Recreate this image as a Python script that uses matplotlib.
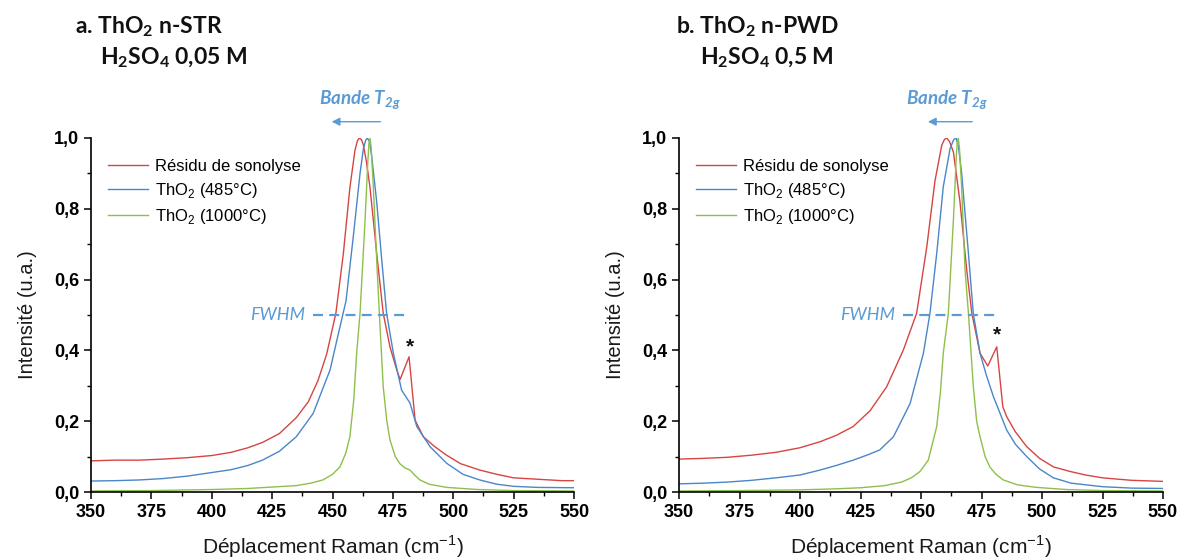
import matplotlib
matplotlib.use("Agg")
import matplotlib.pyplot as plt
from matplotlib.ticker import MultipleLocator, FuncFormatter

# ---------------- data ----------------
# Panel a
a_red_x = [350, 360, 370, 380, 390, 400, 408, 415, 421, 428, 435, 440, 444, 447.6, 451.4, 454.5, 457.2,
           459.3, 460.3, 461.1, 462.0, 462.8, 464.0, 465.5, 468.3, 471, 473.8, 476.6, 478, 481.7, 484.2,
           487.6, 492, 497, 503, 511, 518, 525, 535, 545, 550]
a_red_y = [0.088, 0.090, 0.090, 0.093, 0.097, 0.103, 0.112, 0.125, 0.140, 0.165, 0.210, 0.255, 0.315, 0.390,
           0.505, 0.674, 0.860, 0.965, 0.992, 1.000, 0.995, 0.980, 0.935, 0.862, 0.674, 0.505, 0.410, 0.345,
           0.318, 0.382, 0.203, 0.156, 0.130, 0.105, 0.080, 0.062, 0.050, 0.040, 0.036, 0.032, 0.032]
a_blue_x = [350, 360, 370, 380, 390, 400, 408, 415, 421, 428, 435, 442, 449, 453.1, 455.6, 458.6, 461.4,
            462.8, 463.7, 464.4, 465.3, 466.2, 468.3, 470.4, 472.4, 475.2, 478.6, 482.1, 484.9, 490.4,
            497.3, 504, 511, 518, 525, 535, 550]
a_blue_y = [0.031, 0.032, 0.034, 0.038, 0.045, 0.055, 0.063, 0.075, 0.090, 0.115, 0.156, 0.222, 0.345,
            0.467, 0.540, 0.721, 0.900, 0.970, 0.993, 1.000, 0.990, 0.950, 0.820, 0.655, 0.505, 0.392,
            0.288, 0.251, 0.185, 0.128, 0.081, 0.050, 0.034, 0.022, 0.016, 0.013, 0.012]
a_green_x = [350, 375, 400, 415, 425, 435, 441, 446, 450, 453.1, 455.5, 457.2, 458.8, 460, 461.4, 463.5,
             464.6, 465.1, 465.5, 466.0, 466.9, 468.3, 469.4, 471, 472.5, 473.8, 476, 477.9, 480, 482.1,
             484, 486.2, 490, 497.3, 510, 525, 550]
a_green_y = [0.003, 0.004, 0.007, 0.010, 0.014, 0.018, 0.025, 0.034, 0.050, 0.071, 0.110, 0.156, 0.260,
             0.392, 0.505, 0.770, 0.930, 0.985, 1.000, 0.975, 0.862, 0.655, 0.505, 0.298, 0.200, 0.147,
             0.100, 0.080, 0.068, 0.062, 0.048, 0.034, 0.022, 0.013, 0.007, 0.004, 0.003]

# Panel b
b_red_x = [350, 360, 370, 380, 390, 400, 408.3, 415, 422, 429, 435.8, 442.7, 448.2, 452.4, 455.8, 458.6,
           459.7, 460.6, 461.8, 463.4, 466.1, 468.9, 471, 474.4, 477.6, 481.3, 483.8, 485.4, 489, 493.7,
           499, 504.7, 511.6, 518, 525, 537, 550]
b_red_y = [0.093, 0.095, 0.098, 0.104, 0.112, 0.125, 0.142, 0.160, 0.185, 0.230, 0.297, 0.401, 0.505,
           0.693, 0.880, 0.980, 0.996, 1.000, 0.990, 0.960, 0.820, 0.627, 0.505, 0.392, 0.356, 0.410,
           0.241, 0.213, 0.170, 0.128, 0.095, 0.071, 0.058, 0.048, 0.040, 0.033, 0.030]
b_blue_x = [350, 360, 370, 380, 390, 400, 408.3, 415, 422, 428, 433, 438.6, 445.5, 451, 453.7, 456.5,
            459.2, 462, 463.5, 464.5, 465.5, 466.8, 469.6, 471.6, 474.4, 477, 479.9, 485.4, 489, 493.7,
            499, 504.7, 512, 525, 537, 550]
b_blue_y = [0.023, 0.025, 0.028, 0.033, 0.040, 0.048, 0.062, 0.075, 0.090, 0.105, 0.119, 0.156, 0.250,
            0.392, 0.505, 0.674, 0.862, 0.970, 0.995, 1.000, 0.975, 0.900, 0.674, 0.505, 0.392, 0.330,
            0.270, 0.175, 0.135, 0.100, 0.065, 0.040, 0.025, 0.015, 0.011, 0.010]
b_green_x = [350, 375, 400, 415, 425, 435, 442, 446, 449.6, 453, 456.5, 458, 459.2, 461.3, 463.4, 464.6,
             465.0, 465.4, 465.9, 466.8, 468.2, 469.6, 471.6, 473, 474.4, 476.5, 478.5, 481, 484, 490,
             497.8, 510, 525, 550]
b_green_y = [0.003, 0.004, 0.006, 0.009, 0.012, 0.018, 0.028, 0.040, 0.058, 0.090, 0.185, 0.280, 0.392,
             0.505, 0.770, 0.950, 0.988, 1.000, 0.970, 0.860, 0.627, 0.505, 0.300, 0.200, 0.156, 0.100,
             0.070, 0.050, 0.034, 0.020, 0.013, 0.007, 0.004, 0.003]

labels = ["Résidu de sonolyse", "ThO$_\\mathregular{2}$ (485°C)", "ThO$_\\mathregular{2}$ (1000°C)"]
titles1 = ["a. ThO$_\\mathregular{2}$ n-STR", "b. ThO$_\\mathregular{2}$ n-PWD"]
titles2 = ["H$_\\mathregular{2}$SO$_\\mathregular{4}$ 0,05 M", "H$_\\mathregular{2}$SO$_\\mathregular{4}$ 0,5 M"]
xlabel = "Déplacement Raman (cm$^\\mathregular{-1}$)"
ylabel = "Intensité (u.a.)"

colors = ["#d64541", "#4a86c8", "#8dc04b"]
accent = "#5b9bd5"

# ---------------- figure ----------------
W, H = 1179, 558
fig = plt.figure(figsize=(W / 100, H / 100), dpi=100)

panels = [
    dict(left=91, right=574, data=[(a_red_x, a_red_y), (a_blue_x, a_blue_y), (a_green_x, a_green_y)],
         star=(482.1, 0.41), band=(461.4, 471.0, 448.5), tx=75, tx2=100, fw=(441.8, 482.1)),
    dict(left=679, right=1163, data=[(b_red_x, b_red_y), (b_blue_x, b_blue_y), (b_green_x, b_green_y)],
         star=(481.3, 0.443), band=(460.7, 472.3, 451.7), tx=676, tx2=700, fw=(442.4, 482.6)),
]

top_px, bot_px = 138, 492
for i, p in enumerate(panels):
    ax = fig.add_axes([p["left"] / W, 1 - bot_px / H, (p["right"] - p["left"]) / W, (bot_px - top_px) / H])
    for (x, y), c, lab in zip(p["data"], colors, labels):
        ax.plot(x, y, color=c, lw=1.0, label=lab)
    ax.set_xlim(350, 550)
    ax.set_ylim(0, 1.0)
    for s in ["top", "right"]:
        ax.spines[s].set_visible(False)
    for s in ["left", "bottom"]:
        ax.spines[s].set_linewidth(1.2)
    ax.xaxis.set_major_locator(MultipleLocator(25))
    ax.xaxis.set_minor_locator(MultipleLocator(12.5))
    ax.yaxis.set_major_locator(MultipleLocator(0.2))
    ax.yaxis.set_minor_locator(MultipleLocator(0.1))
    ax.yaxis.set_major_formatter(FuncFormatter(lambda v, pos: f"{v:.1f}".replace(".", ",")))
    ax.tick_params(which="major", direction="out", length=5, width=1.1, pad=3.5)
    ax.tick_params(which="minor", direction="out", length=3, width=1.0)
    for t in ax.get_xticklabels() + ax.get_yticklabels():
        t.set_fontfamily("Liberation Sans")
        t.set_fontweight("bold")
        t.set_fontsize(13)
    ax.set_xlabel(xlabel, family="Liberation Sans", fontsize=15, color="#1a1a1a", labelpad=9)
    ax.set_ylabel(ylabel, family="Liberation Sans", fontsize=14.5, color="#1a1a1a", labelpad=12)

    leg = ax.legend(loc="upper left", bbox_to_anchor=(0.035, 0.94), frameon=False,
                    prop=dict(family="Liberation Sans", size=12), handlelength=2.4,
                    handletextpad=0.45, borderpad=0, borderaxespad=0, labelspacing=0.4)

    # asterisk
    sx, sy = p["star"]
    ax.text(sx, sy, "*", ha="center", va="center", fontsize=15, fontweight="bold",
            family="Liberation Sans", color="#111111")

    # FWHM dashed line + text
    x0, x1 = p["fw"]
    ax.plot([x0, x1], [0.5, 0.5], color=accent, lw=1.6, dashes=(4.5, 2.8))
    ax.text(x0 - 3.2, 0.5, "FWHM", ha="right", va="center", fontsize=13, style="italic",
            family="Lato", color=accent)

    # Bande T2g label + arrow
    bx, ax0, ax1 = p["band"]
    ax.text(bx, 1.107, "Bande T$_\\mathregular{2g}$", ha="center", va="center", fontsize=13.5,
            style="italic", fontweight="bold", family="Lato", color=accent, clip_on=False)
    ax.annotate("", xy=(ax1, 1.046), xytext=(ax0, 1.046), xycoords="data",
                arrowprops=dict(arrowstyle="-|>", color=accent, lw=1.0, mutation_scale=12),
                annotation_clip=False)

    # titles
    fig.text(p["tx"] / W, 1 - 27 / H, titles1[i], fontsize=16.5, fontweight="bold", family="Lato",
             va="center", ha="left", color="#111111")
    fig.text(p["tx2"] / W, 1 - 58 / H, titles2[i], fontsize=16.5, fontweight="bold", family="Lato",
             va="center", ha="left", color="#111111")

fig.savefig("out.png", dpi=100)
